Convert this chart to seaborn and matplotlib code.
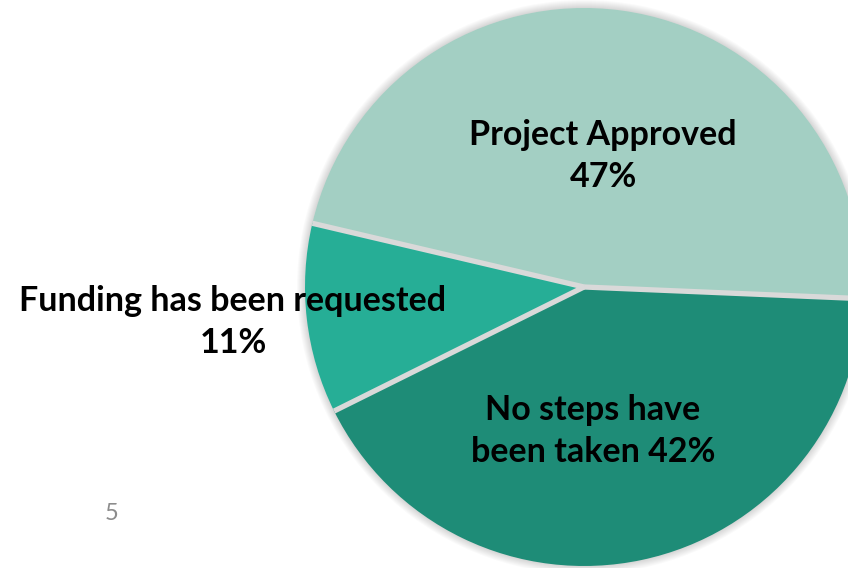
import matplotlib
matplotlib.use("Agg")
import numpy as np
import matplotlib.pyplot as plt
from matplotlib.patches import Circle
import seaborn as sns

sns.set_theme(style="white")
plt.rcParams['font.family'] = ['Lato', 'DejaVu Sans']

# slice data (counterclockwise on screen from the right side)
categories = ["Project Approved", "Funding has been requested", "No steps have been taken"]
shares = [47, 11, 42]
slice_colors = ["#A3CFC3", "#26AE96", "#1E8C77"]
label_texts = ["Project Approved\n47%", "Funding has been requested\n11%", "No steps have\nbeen taken 42%"]
label_pos = [(603, 156), (233, 322), (593, 431)]
page_number = "5"

cx, cy, r = 584, 287, 279

fig = plt.figure(figsize=(8.48, 5.68), dpi=100)
ax = fig.add_axes([0, 0, 1, 1])

# soft shadow around the pie
for k in range(8, 0, -1):
    ax.add_patch(Circle((cx, cy), r + k, color="#000000", alpha=0.018, lw=0, zorder=0))

wedges, _ = ax.pie(shares, colors=slice_colors, startangle=2.4, counterclock=False,
                   center=(cx, cy), radius=r,
                   wedgeprops=dict(edgecolor="none", linewidth=0))

# grey separators only between slices (no outer ring)
for w in wedges:
    ang = np.deg2rad(w.theta1)
    ax.plot([cx, cx + r * np.cos(ang)], [cy, cy + r * np.sin(ang)],
            color="#D9D9D9", lw=3.8, solid_capstyle="butt", zorder=3)

ax.set_xlim(0, 848)
ax.set_ylim(568, 0)
ax.set_aspect("equal")
ax.axis("off")

for txt, (x, y) in zip(label_texts, label_pos):
    ax.text(x, y, txt, ha="center", va="center", fontsize=24.5, fontweight="bold",
            color="black", linespacing=1.4, zorder=4)

ax.text(112, 514, page_number, ha="center", va="center", fontsize=17, color="#8C8C8C")

fig.savefig("out.png", dpi=100)
